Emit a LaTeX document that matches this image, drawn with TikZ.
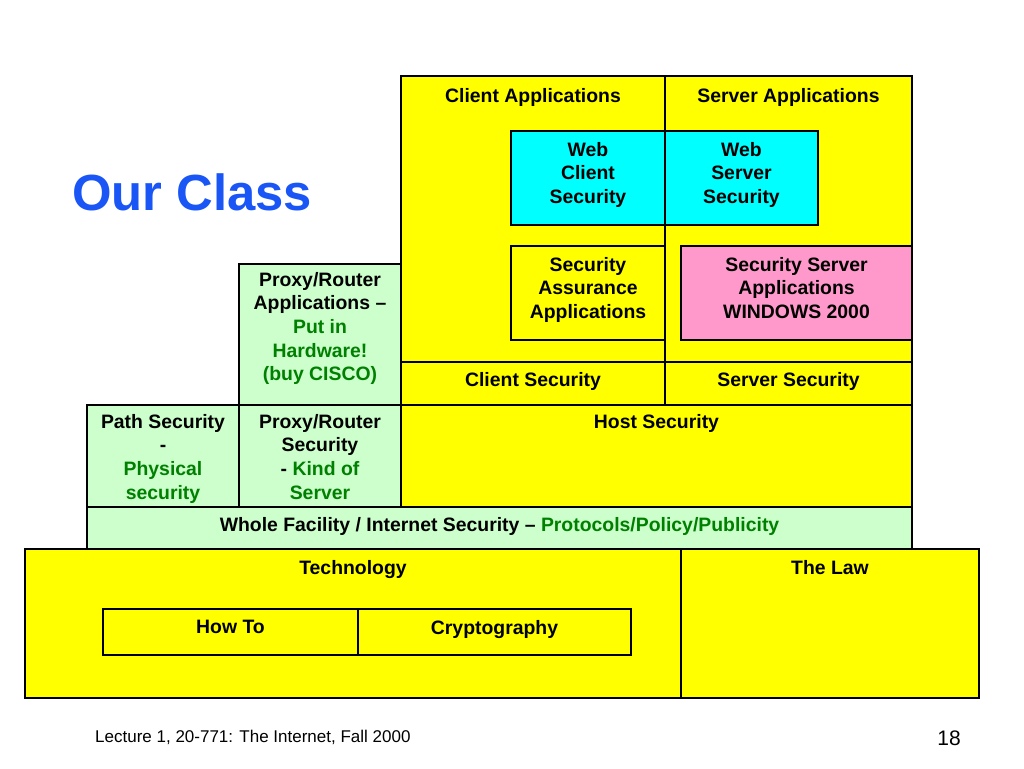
\documentclass[tikz,border=0pt]{standalone}
\usepackage{fontspec}
\setmainfont{Liberation Sans}
\usetikzlibrary{positioning}
\definecolor{hiyellow}{RGB}{255,255,0}
\definecolor{hicyan}{RGB}{0,255,255}
\definecolor{hipink}{RGB}{255,153,204}
\definecolor{paleGreen}{RGB}{204,255,204}
\definecolor{darkGreen}{RGB}{0,128,0}
\definecolor{titleBlue}{RGB}{26,86,245}
\tikzset{
  cell/.style={draw=black,line width=1.3pt},
  lab/.style={font=\bfseries\fontsize{19.4}{23.6}\selectfont,align=center,anchor=north,inner sep=0pt},
  hint/.style={text=darkGreen}
}
\begin{document}
\begin{tikzpicture}[x=1pt,y=-1pt]
              \useasboundingbox (0,0) rectangle (1024,768);
              % application layer
              \draw[cell,fill=hiyellow] (401,76) rectangle (665,362);
              \draw[cell,fill=hiyellow] (665,76) rectangle (912,362);
              \draw[cell,fill=hicyan] (511,131) rectangle (665,225);
              \draw[cell,fill=hicyan] (665,131) rectangle (818,225);
              \draw[cell,fill=hiyellow] (511,246) rectangle (665,340);
              \draw[cell,fill=hipink] (681,246) rectangle (912,340);
              \draw[cell,fill=paleGreen] (239,264) rectangle (401,405);
              \draw[cell,fill=hiyellow] (401,362) rectangle (665,405);
              \draw[cell,fill=hiyellow] (665,362) rectangle (912,405);
              % host / path layer
              \draw[cell,fill=paleGreen] (87,405) rectangle (239,507);
              \draw[cell,fill=paleGreen] (239,405) rectangle (401,507);
              \draw[cell,fill=hiyellow] (401,405) rectangle (912,507);
              \draw[cell,fill=paleGreen] (87,507) rectangle (912,549);
              % foundation
              \draw[cell,fill=hiyellow] (25,549) rectangle (681,698);
              \draw[cell,fill=hiyellow] (681,549) rectangle (979,698);
              \draw[cell,fill=hiyellow] (103,609) rectangle (358,655);
              \draw[cell,fill=hiyellow] (358,609) rectangle (631,655);
              % texts
              \node[anchor=base west,inner sep=0pt,text=titleBlue,font=\bfseries\fontsize{50.8}{60}\selectfont](title)at(72,210){Our Class};
              \node[lab](capp)at(533,88){Client Applications};
              \node[lab](sapp)at(788.5,88){Server Applications};
              \node[lab](wcs)at(588,142){Web\\Client\\Security};
              \node[lab](wss)at(741.5,142){Web\\Server\\Security};
              \node[lab](saa)at(588,257){Security\\Assurance\\Applications};
              \node[lab](ssa)at(796.5,257){Security Server\\Applications\\WINDOWS 2000};
              \node[lab](pra)at(320,272){Proxy/Router\\Applications --\\\textcolor{darkGreen}{Put in}\\\textcolor{darkGreen}{Hardware!}\\\textcolor{darkGreen}{(buy CISCO)}};
              \node[lab](csec)at(533,372){Client Security};
              \node[lab](ssec)at(788.5,372){Server Security};
              \node[lab](path)at(163,414){Path Security\\-\\\textcolor{darkGreen}{Physical}\\\textcolor{darkGreen}{security}};
              \node[lab](prs)at(320,414){Proxy/Router\\Security\\- \textcolor{darkGreen}{Kind of}\\\textcolor{darkGreen}{Server}};
              \node[lab](host)at(656.5,414){Host Security};
              \node[lab](whole)at(499.5,517){Whole Facility / Internet Security -- \textcolor{darkGreen}{Protocols/Policy/Publicity}};
              \node[lab](tech)at(353,560){Technology};
              \node[lab](law)at(830,560){The Law};
              \node[lab](howto)at(230.5,620){How To};
              \node[lab](crypto)at(494.5,620){Cryptography};
              % footer
              \node[anchor=base west,inner sep=0pt,font=\fontsize{17}{20}\selectfont](foot)at(95,742){Lecture 1, 20-771: The Internet, Fall 2000};
              \node[anchor=base east,inner sep=0pt,font=\fontsize{21}{25}\selectfont](page)at(961,745){18};
            \end{tikzpicture}
\end{document}
